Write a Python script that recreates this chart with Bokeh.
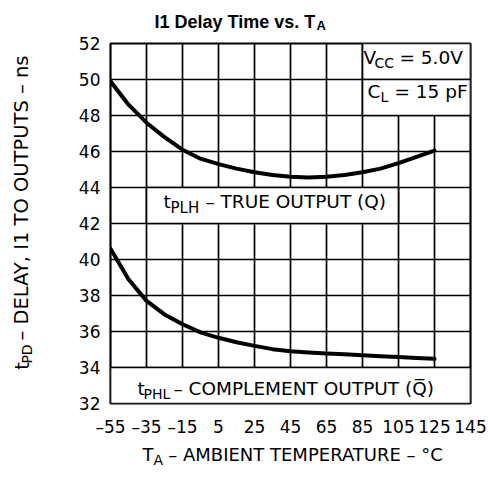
import math
from bokeh.plotting import figure
from bokeh.layouts import column, row
from bokeh.models import Label, FixedTicker, Range1d
from bokeh.embed import file_html
from bokeh.resources import INLINE

# ---- data ----
temperature = [-55, -45, -35, -25, -15, -5, 5, 15, 25, 35, 45, 55, 65, 75, 85, 95, 105, 115, 125]
t_plh = [49.9, 48.6, 47.6, 46.8, 46.1, 45.6, 45.3, 45.05, 44.85, 44.7, 44.6, 44.55, 44.6, 44.7, 44.85, 45.05, 45.35, 45.7, 46.05]
t_phl = [40.6, 38.9, 37.7, 36.95, 36.4, 35.95, 35.65, 35.4, 35.2, 35.02, 34.9, 34.83, 34.78, 34.73, 34.68, 34.63, 34.58, 34.53, 34.48]
x_ticks = [-55, -35, -15, 5, 25, 45, 65, 85, 105, 125, 145]
x_tick_labels = ["\u201355", "\u201335", "\u201315", "5", "25", "45", "65", "85", "105", "125", "145"]
y_ticks = [32, 34, 36, 38, 40, 42, 44, 46, 48, 50, 52]

X0, X1, Y0, Y1 = -55, 145, 32, 52
PAGE_W, PAGE_H = 488, 486
TOP_H = 35          # title strip
MID_H = 406         # main row
BOT_H = PAGE_H - TOP_H - MID_H
YLAB_W = 60
SHIFT = 6           # baseline correction (px)
NB = "\u00a0"

def text_fig(w, h, x0, y0):
    f = figure(width=w, height=h, x_range=Range1d(x0, x0 + w), y_range=Range1d(y0 + h, y0),
               x_axis_type=None, y_axis_type=None, output_backend="svg", toolbar_location=None,
               min_border=0)
    f.grid.visible = False
    f.outline_line_color = None
    f.background_fill_color = "white"
    f.border_fill_color = "white"
    return f

def add_label(fig, x, y, text, size, font="DejaVu Sans", style="normal", angle=0.0):
    fig.add_layout(Label(x=x, y=y, text=text, text_font=font, text_font_size=f"{size}px",
                         text_font_style=style, text_color="black", text_align="left",
                         text_baseline="alphabetic", angle=angle))

# ---- main chart ----
p = figure(width=PAGE_W - YLAB_W, height=MID_H, x_range=Range1d(X0, X1), y_range=Range1d(Y0, Y1),
           output_backend="svg", toolbar_location=None,
           min_border_left=110 - YLAB_W, min_border_right=18, min_border_top=43 - TOP_H,
           min_border_bottom=MID_H - (403 - TOP_H))
p.title.visible = False
p.background_fill_color = "white"
p.border_fill_color = "white"
p.outline_line_color = "black"
p.outline_line_width = 2.2

for ax, ticks in ((p.xaxis, x_ticks), (p.yaxis, y_ticks)):
    ax.ticker = FixedTicker(ticks=ticks)
    ax.axis_line_color = None
    ax.major_tick_line_color = None
    ax.minor_tick_line_color = None
    ax.major_label_text_font = "DejaVu Sans"
    ax.major_label_text_font_size = "17px"
    ax.major_label_text_color = "black"
p.xaxis.major_label_overrides = {t: s for t, s in zip(x_ticks, x_tick_labels)}
p.xaxis.major_label_standoff = 7
p.yaxis.major_label_standoff = 4

p.xgrid.ticker = FixedTicker(ticks=x_ticks)
p.ygrid.ticker = FixedTicker(ticks=y_ticks)
for g in (p.xgrid, p.ygrid):
    g.grid_line_color = "black"
    g.grid_line_width = 1.7
    g.grid_line_alpha = 1.0

# white annotation boxes covering parts of the grid
p.quad(left=[85, 85, -35, -55], right=[145, 145, 105, 145],
       bottom=[50, 48, 42, 32], top=[52, 50, 44, 34],
       fill_color="white", line_color="black", line_width=1.7)

p.line(temperature, t_plh, line_color="black", line_width=4, line_join="round", line_cap="round")
p.line(temperature, t_phl, line_color="black", line_width=4, line_join="round", line_cap="round")

def dx(px):
    return X0 + (px - 110) / 1.8

def dy(py):
    return Y1 - (py - SHIFT - 43) / 18

def in_plot(px, py, text, size):
    add_label(p, dx(px), dy(py), text, size)

in_plot(363, 63, "V", 18.5)
in_plot(374, 68, "CC", 14)
in_plot(393, 63, NB + "= 5.0V", 18.5)
in_plot(367, 97, "C", 18.5)
in_plot(380, 102, "L", 14)
in_plot(388, 97, NB + "= 15 pF", 18.5)

in_plot(163, 207, "t", 18.5)
in_plot(170, 213, "PLH", 15)
in_plot(199, 207, NB + "\u2013 TRUE OUTPUT (Q)", 18.5)

in_plot(137, 394, "t", 18.5)
in_plot(143, 399, "PHL", 14)
in_plot(167, 394, NB + "\u2013 COMPLEMENT OUTPUT (Q\u0305)", 18.5)

# ---- title strip ----
tf = text_fig(PAGE_W, TOP_H, 0, 0)
add_label(tf, 154, 27 - SHIFT, "I1 Delay Time vs. T", 18, font="Liberation Sans", style="bold")
add_label(tf, 316, 31 - SHIFT, "A", 13, font="Liberation Sans", style="bold")

# ---- y label strip (rotated) ----
yf = text_fig(YLAB_W, MID_H, 0, TOP_H)
rot = math.pi / 2
YL_DX, YL_DY = -3, 33   # empirical correction for rotated text
add_label(yf, 30 - SHIFT + YL_DX, 370 + YL_DY, "t", 19, angle=rot)
add_label(yf, 35 - SHIFT + YL_DX, 363 + YL_DY, "PD", 14, angle=rot)
add_label(yf, 30 - SHIFT + YL_DX, 344 + YL_DY, NB + "\u2013 DELAY, I1 TO OUTPUTS \u2013 ns", 19.5, angle=rot)

# ---- x label strip ----
xf = text_fig(PAGE_W, BOT_H, 0, TOP_H + MID_H)
add_label(xf, 142, 460 - SHIFT, "T", 18)
add_label(xf, 153, 465 - SHIFT, "A", 14)
add_label(xf, 162, 460 - SHIFT, NB + "\u2013 AMBIENT TEMPERATURE \u2013 \u00b0C", 18)

layout = column(tf, row(yf, p), xf)
open("out.html", "w").write(file_html(layout, INLINE))
